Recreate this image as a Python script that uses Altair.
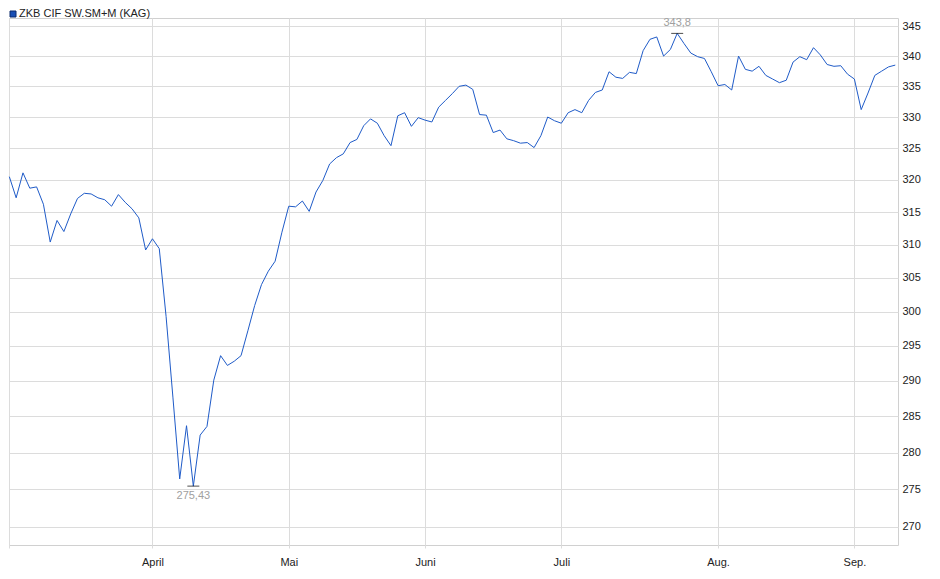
import altair as alt
import pandas as pd

SERIES_NAME = "ZKB CIF SW.SM+M (KAG)"

# Daily values (trading-day index 0 = 3 March, last = 9 September)
VALUES = [
    320.5, 317.2, 321.1, 318.7, 318.9, 316.2, 310.4, 313.7, 312.0, 314.7,
    317.1, 317.9, 317.8, 317.2, 316.9, 315.9, 317.7, 316.5, 315.5, 314.1,
    309.2, 310.9, 309.4, 299.3, 287.7, 276.4, 283.7, 275.43, 282.4, 283.6,
    290.1, 293.6, 292.2, 292.8, 293.6, 297.2, 300.9, 304.0, 306.0, 307.5,
    311.9, 315.9, 315.8, 316.7, 315.1, 318.1, 319.9, 322.5, 323.5, 324.1,
    325.9, 326.4, 328.6, 329.7, 329.0, 327.0, 325.4, 330.2, 330.7, 328.5,
    329.9, 329.5, 329.2, 331.6, 332.7, 333.8, 335.0, 335.2, 334.5, 330.4,
    330.3, 327.5, 327.9, 326.5, 326.2, 325.8, 325.9, 325.1, 327.0, 330.0,
    329.4, 329.0, 330.7, 331.2, 330.7, 332.7, 334.0, 334.4, 337.4, 336.5,
    336.3, 337.3, 337.1, 340.9, 342.8, 343.2, 340.0, 341.1, 343.8, 342.1,
    340.5, 339.9, 339.6, 337.4, 335.1, 335.3, 334.4, 340.0, 337.8, 337.5,
    338.3, 336.8, 336.2, 335.6, 336.0, 339.0, 339.9, 339.4, 341.4, 340.2,
    338.6, 338.3, 338.4, 337.0, 336.2, 331.2, 333.9, 336.8, 337.5, 338.2,
    338.5,
]

MONTH_POS = [0, 21, 41, 61, 81, 104, 124]
MONTH_LABELS = ["", "April", "Mai", "Juni", "Juli", "Aug.", "Sep."]

Y_TICKS = [270, 275, 280, 285, 290, 295, 300, 305, 310, 315, 320, 325, 330, 335, 340, 345]

EXTREMES_IDX = [98, 27]
EXTREMES_VAL = [343.8, 275.43]
EXTREMES_TXT = ["343,8", "275,43"]

FONT = "Liberation Sans"
LINE_COLOR = "#1f5bc8"

df = pd.DataFrame({"i": list(range(len(VALUES))), "v": VALUES, "s": SERIES_NAME})
ext = pd.DataFrame({"i": EXTREMES_IDX, "v": EXTREMES_VAL, "t": EXTREMES_TXT})

label_expr = ""
for p, l in zip(MONTH_POS, MONTH_LABELS):
    label_expr += f"datum.value == {p} ? '{l}' : "
label_expr += "''"

xscale = alt.Scale(domain=[-0.05, 130.4], nice=False, zero=False)
yscale = alt.Scale(type="log", domain=[267.6, 346.4], nice=False, zero=False)

xenc = alt.X(
    "i:Q",
    scale=xscale,
    axis=alt.Axis(
        values=MONTH_POS,
        labelExpr=label_expr,
        title=None,
        domain=False,
        grid=True,
        gridColor="#dcdcdc",
        ticks=True,
        tickSize=3,
        tickColor="#dcdcdc",
        labelPadding=8,
        labelFont=FONT,
        labelFontSize=11,
        labelColor="#222222",
        labelAlign="center",
        labelFlush=False,
    ),
)
yenc = alt.Y(
    "v:Q",
    scale=yscale,
    axis=alt.Axis(
        orient="right",
        values=Y_TICKS,
        format="d",
        title=None,
        domain=False,
        grid=True,
        gridColor="#dcdcdc",
        ticks=False,
        labelPadding=4,
        labelFont=FONT,
        labelFontSize=11,
        labelColor="#222222",
        labelBaseline="middle",
        labelFlush=False,
    ),
)

line = alt.Chart(df).mark_line(color=LINE_COLOR, strokeWidth=1).encode(x=xenc, y=yenc)

ticks = alt.Chart(ext).mark_tick(orient="horizontal", size=12, thickness=1, color="#000000").encode(
    x=alt.X("i:Q", scale=xscale), y=alt.Y("v:Q", scale=yscale)
)
txt_hi = alt.Chart(ext.iloc[[0]]).mark_text(
    font=FONT, fontSize=11, color="#a0a0a0", dy=-10, baseline="middle", align="center"
).encode(x=alt.X("i:Q", scale=xscale), y=alt.Y("v:Q", scale=yscale), text="t:N")
txt_lo = alt.Chart(ext.iloc[[1]]).mark_text(
    font=FONT, fontSize=11, color="#a0a0a0", dy=10, baseline="middle", align="center"
).encode(x=alt.X("i:Q", scale=xscale), y=alt.Y("v:Q", scale=yscale), text="t:N")

leg_df = pd.DataFrame({"name": [SERIES_NAME]})
leg_sq = alt.Chart(leg_df).mark_square(
    size=36, fill="#1a4fb4", stroke="#0c2a6a", strokeWidth=1, opacity=1
).encode(x=alt.value(4), y=alt.value(-4))
leg_txt = alt.Chart(leg_df).mark_text(
    font=FONT, fontSize=11, color="#222222", align="left", baseline="middle"
).encode(x=alt.value(10), y=alt.value(-4), text="name:N")

chart = (
    alt.layer(line, ticks, txt_hi, txt_lo, leg_sq, leg_txt)
    .properties(
        width=889,
        height=527,
        autosize=alt.AutoSizeParams(type="none"),
        padding={"left": 1, "top": 10, "right": 34, "bottom": 26},
        background="#ffffff",
    )
    .configure_view(stroke="#d0d0d0", strokeWidth=1)
)

chart.save("out.html", embed_options={"renderer": "svg", "actions": False})
